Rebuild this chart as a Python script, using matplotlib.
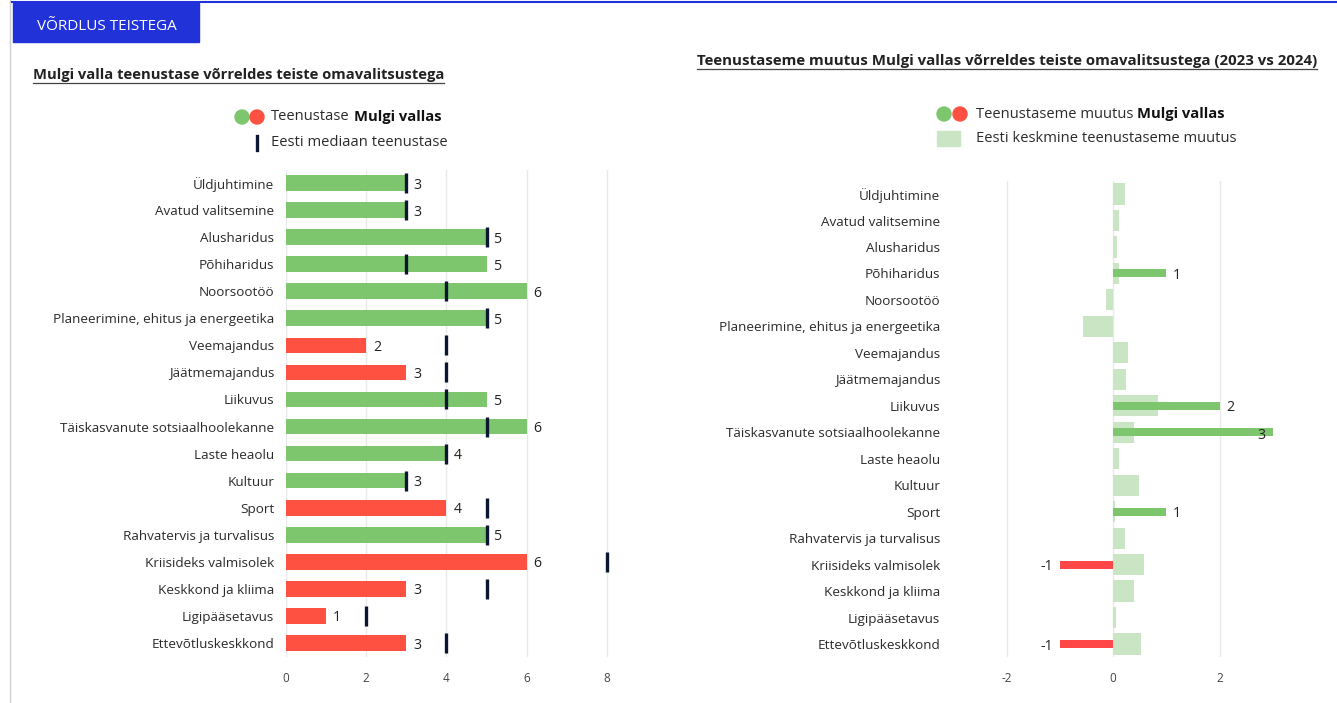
import matplotlib
matplotlib.use("Agg")
import matplotlib.pyplot as plt
from matplotlib.patches import Circle, Rectangle
import numpy as np

plt.rcParams['font.family'] = ['Open Sans', 'DejaVu Sans']
plt.rcParams['axes.unicode_minus'] = False

# ---------------- data ----------------
categories = [
    "Üldjuhtimine", "Avatud valitsemine", "Alusharidus", "Põhiharidus",
    "Noorsootöö", "Planeerimine, ehitus ja energeetika", "Veemajandus",
    "Jäätmemajandus", "Liikuvus", "Täiskasvanute sotsiaalhoolekanne",
    "Laste heaolu", "Kultuur", "Sport", "Rahvatervis ja turvalisus",
    "Kriisideks valmisolek", "Keskkond ja kliima", "Ligipääsetavus",
    "Ettevõtluskeskkond",
]
mulgi_level = [3, 3, 5, 5, 6, 5, 2, 3, 5, 6, 4, 3, 4, 5, 6, 3, 1, 3]
median_level = [3, 3, 5, 3, 4, 5, 4, 4, 4, 5, 4, 3, 5, 5, 8, 5, 2, 4]
mulgi_change = [0, 0, 0, 1, 0, 0, 0, 0, 2, 3, 0, 0, 1, 0, -1, 0, 0, -1]
avg_change = [0.22, 0.12, 0.07, 0.12, -0.13, -0.57, 0.29, 0.25, 0.84, 0.40,
              0.11, 0.49, 0.04, 0.22, 0.58, 0.40, 0.06, 0.53]
left_ticks = [0, 2, 4, 6, 8]
right_ticks = [-2, 0, 2]

GREEN = "#7dc66e"
RED = "#ff5141"
RED2 = "#ff4747"
LIGHT = "#c9e5c3"
MEDIAN_C = "#0b1730"
TXT = "#2b2b2b"
GRID = "#e9e9ec"

W, H = 1337, 703
fig = plt.figure(figsize=(W / 100, H / 100), dpi=100)

# overlay axes in pixel coordinates
ov = fig.add_axes([0, 0, 1, 1], zorder=-1)
ov.set_xlim(0, W)
ov.set_ylim(H, 0)
ov.axis("off")

def fax(x0, x1, y0, y1):
    return fig.add_axes([x0 / W, 1 - y1 / H, (x1 - x0) / W, (y1 - y0) / H])

n = len(categories)
ypos = np.arange(n)

# ---------------- left chart ----------------
axL = fax(286, 620, 169.5, 656.5)
axL.set_xlim(0, (620 - 286) / 40.1)
axL.set_ylim(n - 0.5, -0.5)
colsL = [GREEN if v >= m else RED for v, m in zip(mulgi_level, median_level)]
axL.barh(ypos, mulgi_level, height=0.58, color=colsL, zorder=2)
axL.vlines(median_level, ypos - 0.37, ypos + 0.37, color=MEDIAN_C, lw=2.4, zorder=3)
for y, v in zip(ypos, mulgi_level):
    axL.annotate(str(v), (v, y), xytext=(5, -1.5), textcoords="offset points",
                 ha="left", va="center", fontsize=10.2, color="#222")
axL.set_xticks(left_ticks)
axL.set_yticks(ypos)
axL.set_yticklabels(categories, fontsize=9.7, color=TXT)
axL.tick_params(axis="y", length=0, pad=8.5)
axL.tick_params(axis="x", length=0, pad=11, labelsize=8.5, labelcolor="#444")
axL.grid(axis="x", color=GRID, lw=1, zorder=0)
for s in axL.spines.values():
    s.set_visible(False)

# ---------------- right chart ----------------
r0 = (975 - 1113) / 53.25
r1 = (1320 - 1113) / 53.25
axR = fax(975, 1320, 180.8, 657.2)
axR.set_xlim(r0, r1)
axR.set_ylim(n - 0.5, -0.5)
axR.barh(ypos, avg_change, height=0.8, color=LIGHT, zorder=2)
colsR = [GREEN if v > 0 else RED2 for v in mulgi_change]
axR.barh(ypos, mulgi_change, height=0.3, color=colsR, zorder=3)
for y, v in zip(ypos, mulgi_change):
    if v == 0:
        continue
    if v >= 3:
        axR.annotate(str(v), (v, y), xytext=(-5, -2), textcoords="offset points",
                     ha="right", va="center", fontsize=10.2, color="#222", zorder=4)
    elif v > 0:
        axR.annotate(str(v), (v, y), xytext=(5, -1.5), textcoords="offset points",
                     ha="left", va="center", fontsize=10.2, color="#222")
    else:
        axR.annotate(str(v), (v, y), xytext=(-5, -1.5), textcoords="offset points",
                     ha="right", va="center", fontsize=10.2, color="#222")
axR.set_xticks(right_ticks)
axR.set_yticks(ypos)
axR.set_yticklabels(categories, fontsize=9.7, color=TXT)
axR.tick_params(axis="y", length=0, pad=25)
axR.tick_params(axis="x", length=0, pad=11, labelsize=8.5, labelcolor="#444")
axR.grid(axis="x", color=GRID, lw=1, zorder=0)
for s in axR.spines.values():
    s.set_visible(False)

# ---------------- frame / header ----------------
ov.plot([10, 10], [0, H], color="#d0d0d0", lw=1)
ov.plot([12, 1337], [2, 2], color="#2132d9", lw=1.5)
ov.add_patch(Rectangle((13, 3), 186, 39, color="#2132d9"))
ov.text(107, 24, "VÕRDLUS TEISTEGA", color="white", fontsize=11, ha="center",
        va="center_baseline")

renderer = fig.canvas.get_renderer()

def underlined(x, y, s, **kw):
    t = ov.text(x, y, s, fontweight="bold", va="center", ha="left", color="#222", **kw)
    bb = t.get_window_extent(renderer)
    ov.plot([bb.x0, bb.x1], [H - bb.y0 + 1, H - bb.y0 + 1], color="#444", lw=0.9)
    return t

underlined(33, 75, "Mulgi valla teenustase võrreldes teiste omavalitsustega", fontsize=10.6)
underlined(697, 61, "Teenustaseme muutus Mulgi vallas võrreldes teiste omavalitsustega (2023 vs 2024)", fontsize=10.8)

def mixed(x, y, normal, bold, fs=10.6):
    t = ov.text(x, y, normal, fontsize=fs, va="center", ha="left", color=TXT)
    bb = t.get_window_extent(renderer)
    ov.text(x + bb.width + 4, y, bold, fontsize=fs, va="center", ha="left",
            fontweight="bold", color="#111")

# left legend
ov.add_patch(Circle((242, 117), 7, color=GREEN))
ov.add_patch(Circle((257, 117), 7, color=RED))
mixed(271, 117, "Teenustase", "Mulgi vallas")
ov.plot([257, 257], [136, 150], color=MEDIAN_C, lw=2.4)
ov.text(271, 143, "Eesti mediaan teenustase", fontsize=10.6, va="center", ha="left", color=TXT)

# right legend
ov.add_patch(Circle((944, 114), 7, color=GREEN))
ov.add_patch(Circle((960, 114), 7, color=RED))
mixed(976, 114, "Teenustaseme muutus", "Mulgi vallas")
ov.add_patch(Rectangle((937, 131), 23, 15, color=LIGHT))
ov.text(976, 138, "Eesti keskmine teenustaseme muutus", fontsize=10.6, va="center", ha="left", color=TXT)

fig.savefig("out.png", dpi=100)
